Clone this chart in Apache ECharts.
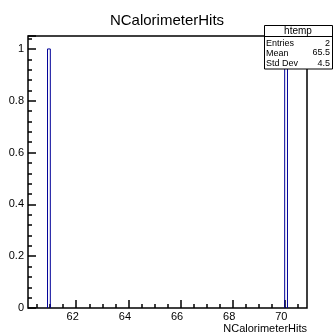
<!DOCTYPE html>
<html>
<head>
<meta charset="utf-8">
<script src="https://cdn.jsdelivr.net/npm/echarts@6/dist/echarts.min.js"></script>
<style>
  html, body { margin: 0; padding: 0; background: #fff; }
  #chart-container { width: 334px; height: 334px; }
</style>
</head>
<body>
<div id="chart-container"></div>
<script>
// histogram bins that have entries
var binLow = [60.899, 69.994];
var binHigh = [61.006, 70.101];
var binCount = [1, 1];

var xMajorTicks = [62, 64, 66, 68, 70];
var xMinorTicks = [60.5, 61, 61.5, 62.5, 63, 63.5, 64.5, 65, 65.5, 66.5, 67, 67.5, 68.5, 69, 69.5, 70.5];

var statsNames = ['Entries', 'Mean', 'Std Dev'];
var statsValues = ['2', '65.5', '4.5'];

var FONT = '"Liberation Sans", Arial, sans-serif';

function renderItem(params, api) {
  var lo = api.coord([api.value(0), 0]);
  var hi = api.coord([api.value(1), api.value(2)]);
  return {
    type: 'polyline',
    shape: { points: [[lo[0], lo[1]], [lo[0], hi[1]], [hi[0], hi[1]], [hi[0], lo[1]]] },
    style: { stroke: '#000099', fill: null, lineWidth: 1 }
  };
}

var histData = binLow.map(function (lo, i) { return [lo, binHigh[i], binCount[i]]; });

var graphics = [
  { type: 'rect', shape: { x: 264.5, y: 25.5, width: 68, height: 43.5 },
    style: { fill: '#fff', stroke: '#000', lineWidth: 1 }, z: 100 },
  { type: 'line', shape: { x1: 264.5, y1: 36.5, x2: 332.5, y2: 36.5 },
    style: { stroke: '#000', lineWidth: 1 }, z: 101 },
  { type: 'text', x: 298, y: 31, z: 101,
    style: { text: 'htemp', font: '10px ' + FONT, fill: '#000', align: 'center', verticalAlign: 'middle' } }
];
statsNames.forEach(function (name, i) {
  var y = 44 + i * 9.8;
  graphics.push({ type: 'text', x: 266, y: y, z: 101,
    style: { text: name, font: '9px ' + FONT, fill: '#000', align: 'left', verticalAlign: 'middle' } });
  graphics.push({ type: 'text', x: 330, y: y - (i === 1 ? 1.5 : 0), z: 101,
    style: { text: statsValues[i], font: '9px ' + FONT, fill: '#000', align: 'right', verticalAlign: 'middle' } });
});

var myChart = echarts.init(document.getElementById('chart-container'), null, { renderer: 'canvas' });
var option = {
  animation: false,
  backgroundColor: '#fff',
  title: {
    text: 'NCalorimeterHits',
    left: 'center',
    top: 8,
    textStyle: { fontFamily: FONT, fontSize: 15, fontWeight: 'normal', color: '#000' }
  },
  grid: {
    left: 28, right: 27, top: 36, bottom: 23,
    show: true, borderColor: '#000', borderWidth: 1.5, backgroundColor: 'transparent'
  },
  xAxis: [
    {
      type: 'value', min: 60.15, max: 70.85, position: 'bottom',
      axisLine: { show: false },
      splitLine: { show: false },
      axisTick: { show: true, inside: true, length: 4, customValues: xMinorTicks, lineStyle: { color: '#000', width: 1.5 } },
      axisLabel: { show: false }
    },
    {
      type: 'value', min: 60.15, max: 70.85, position: 'bottom',
      name: 'NCalorimeterHits', nameLocation: 'end', nameGap: 0,
      nameTextStyle: { fontFamily: FONT, fontSize: 11, color: '#000', align: 'right', verticalAlign: 'top', padding: [15, 0, 0, 0] },
      axisLine: { show: false },
      splitLine: { show: false },
      axisTick: { show: true, inside: true, length: 8, customValues: xMajorTicks, lineStyle: { color: '#000', width: 1.5 } },
      axisLabel: { customValues: xMajorTicks, margin: 3, fontFamily: FONT, fontSize: 11, color: '#000',
                   padding: [0, 7, 0, 0] }
    }
  ],
  yAxis: {
    type: 'value', min: 0, max: 1.05, interval: 0.2,
    axisLine: { show: false },
    splitLine: { show: false },
    axisTick: { show: true, inside: true, length: 8, lineStyle: { color: '#000', width: 1.5 } },
    minorTick: { show: true, splitNumber: 5, length: 4, lineStyle: { color: '#000', width: 1.5 } },
    axisLabel: { margin: 4, fontFamily: FONT, fontSize: 11, color: '#000',
                 showMaxLabel: false,
                 formatter: function (v) { return String(Math.round(v * 10) / 10); } }
  },
  series: [
    {
      type: 'custom',
      renderItem: renderItem,
      xAxisIndex: 0,
      encode: { x: [0, 1], y: 2 },
      data: histData,
      silent: true
    }
  ],
  graphic: graphics
};
myChart.setOption(option);
</script>
</body>
</html>
